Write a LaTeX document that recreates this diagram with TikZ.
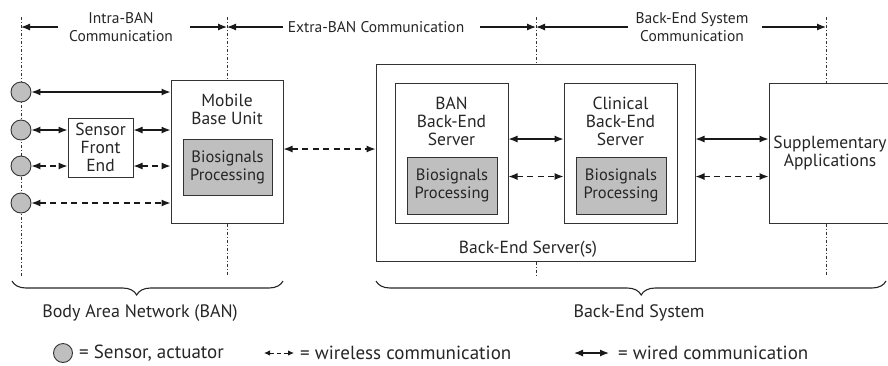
\documentclass[tikz,border=0pt]{standalone}
\usepackage{fontspec}
\setmainfont{PT Sans}
\usetikzlibrary{arrows.meta,decorations.pathreplacing}
\begin{document}
\begin{tikzpicture}[x=1pt,y=-1pt,
  txt/.style={font=\fontsize{17.5}{18}\selectfont, align=center, inner sep=0pt, text=black!85},
  toptxt/.style={font=\fontsize{15.5}{18}\selectfont, align=center, inner sep=0pt, text=black!85},
  bottxt/.style={font=\fontsize{18}{20}\selectfont, align=center, inner sep=0pt, text=black!85},
  legtxt/.style={font=\fontsize{19}{21}\selectfont, anchor=west, inner sep=0pt, text=black!85},
  box/.style={draw=black!80, line width=1pt, inner sep=0pt, fill=white, rectangle},
  proc/.style={box, fill=black!25, font=\fontsize{16.5}{18}\selectfont, align=center, text=black!85},
  sensor/.style={circle, draw=black!80, line width=0.9pt, fill=black!25, minimum size=20pt, inner sep=0pt},
  tip/.tip={Latex[length=9pt,width=7pt]},
  wired/.style={line width=1.2pt, draw=black!90, {tip}-{tip}},
  wireless/.style={wired, dash pattern=on 6pt off 4.5pt},
  single/.style={line width=1.2pt, draw=black!90, -{tip}},
  vline/.style={line width=0.8pt, draw=black!80, dash pattern=on 3pt off 2pt on 1pt off 2pt},
  bracestyle/.style={line width=1.1pt, draw=black!85, decorate}
]
\useasboundingbox (0,0) rectangle (888,365);
\clip (0,0) rectangle (888,365);

% boxes
\node[box, minimum width=65pt, minimum height=59pt] (sfe) at (100.5,147.5) {};
\node[box, minimum width=112pt, minimum height=143pt] (mbu) at (227,151.5) {};
\node[proc, minimum width=89pt, minimum height=56pt] (mbup) at (227.5,167) {Biosignals\\Processing};
\node[box, minimum width=319pt, minimum height=197pt] (bes) at (535.5,162.5) {};
\node[box, minimum width=113pt, minimum height=140pt] (bban) at (451.5,153) {};
\node[proc, minimum width=90pt, minimum height=57pt] (bbanp) at (452,185.5) {Biosignals\\Processing};
\node[box, minimum width=113pt, minimum height=140pt] (clin) at (620.5,153) {};
\node[proc, minimum width=90pt, minimum height=57pt] (clinp) at (621,185.5) {Biosignals\\Processing};
\node[box, minimum width=125pt, minimum height=140pt] (supp) at (831.5,153) {};

% dash-dot verticals
\coordinate (t1) at (21,17);   \coordinate (b1) at (21,276);
\coordinate (t2) at (227,17);  \coordinate (b2) at (227,276);
\coordinate (t3) at (536,17);  \coordinate (b3) at (536,276);
\coordinate (t4) at (826,17);  \coordinate (b4) at (826,276);
\draw[vline] (t1) -- (b1);
\draw[vline] (t2) -- (t2 |- mbu.north);
\draw[vline] (mbu.south -| t2) -- (b2);
\draw[vline] (t3) -- (t3 |- bes.north);
\draw[vline] (bes.south -| t3) -- (b3);
\draw[vline] (t4) -- (t4 |- supp.north);
\draw[vline] (supp.south -| t4) -- (b4);

% sensors
\node[sensor] (s1) at (21,92) {};
\node[sensor] (s2) at (21,130) {};
\node[sensor] (s3) at (21,166) {};
\node[sensor] (s4) at (21,203) {};

% texts
\node[txt] (sfet) at (sfe.center) {\fontsize{17.5}{16.5}\selectfont Sensor\\Front\\End};
\node[txt] (mbut) at (227,109) {Mobile\\Base Unit};
\node[txt] (bbant) at (451.5,121) {BAN\\Back-End\\Server};
\node[txt] (clint) at (620.5,121) {Clinical\\Back-End\\Server};
\node[txt] (best) at (528,249) {Back-End Server(s)};
\node[txt] (suppt) at (830,153.5) {Supplementary\\Applications};
\node[toptxt] (intra) at (121,27) {Intra-BAN\\Communication};
\node[toptxt] (extra) at (376,27) {Extra-BAN Communication};
\node[toptxt] (besc) at (692,27) {Back-End System\\Communication};
\node[bottxt] (ban) at (140,313) {Body Area Network (BAN)};
\node[bottxt] (besys) at (639,313) {Back-End System};

% top arrows
\coordinate (a1) at (58,27);
\coordinate (a2) at (190,27);
\coordinate (a3) at (283,27);
\coordinate (a4) at (480,27);
\coordinate (a5) at (628,27);
\coordinate (a6) at (762,27);
\draw[single] (a1) -- (a1 -| t1);
\draw[single] (a2) -- (a2 -| t2);
\draw[single] (a3) -- (a3 -| t2);
\draw[single] (a4) -- (a4 -| t3);
\draw[single] (a5) -- (a5 -| t3);
\draw[single] (a6) -- (a6 -| t4);

% BAN connectors
\draw[wired] (s1) -- (s1 -| mbu.west);
\draw[wired] (s2) -- (s2 -| sfe.west);
\draw[wired] (sfe.east |- s2) -- (mbu.west |- s2);
\draw[wireless] (s3) -- (s3 -| sfe.west);
\draw[wireless] (sfe.east |- s3) -- (mbu.west |- s3);
\draw[wireless] (s4) -- (s4 -| mbu.west);

% extra-BAN and back-end
\coordinate (r149) at (0,149);
\coordinate (r139) at (0,139);
\coordinate (r176) at (0,176.5);
\draw[wireless] (mbu.east |- r149) -- (bes.west |- r149);
\draw[wired] (bban.east |- r139) -- (clin.west |- r139);
\draw[wireless] (bban.east |- r176) -- (clin.west |- r176);
\draw[wired] (bes.east |- r139) -- (supp.west |- r139);
\draw[wireless] (bes.east |- r176) -- (supp.west |- r176);

% braces
\coordinate (bl1) at (12,281);  \coordinate (bl2) at (283,281);
\coordinate (br1) at (376,281); \coordinate (br2) at (886,281);
\draw[bracestyle, decoration={brace, mirror, amplitude=14pt, aspect=0.46}] (bl1) -- (bl2);
\draw[bracestyle, decoration={brace, mirror, amplitude=14pt, aspect=0.52}] (br1) -- (br2);

% legend
\node[sensor, minimum size=19pt] (lsens) at (63,353) {};
\node[legtxt] (lsenst) at (79,353) {= Sensor, actuator};
\coordinate (lw1) at (264,353); \coordinate (lw2) at (294,353);
\draw[line width=1pt, draw=black!90, {Latex[length=6pt,width=5.5pt]}-{Latex[length=6pt,width=5.5pt]}, dash pattern=on 4pt off 3pt] (lw1) -- (lw2);
\node[legtxt] (lwt) at (300,353) {= wireless communication};
\coordinate (ld1) at (574,353); \coordinate (ld2) at (609,353);
\draw[line width=1.2pt, draw=black!90, {tip}-{tip}] (ld1) -- (ld2);
\node[legtxt] (ldt) at (618,353) {= wired communication};
\end{tikzpicture}
\end{document}
